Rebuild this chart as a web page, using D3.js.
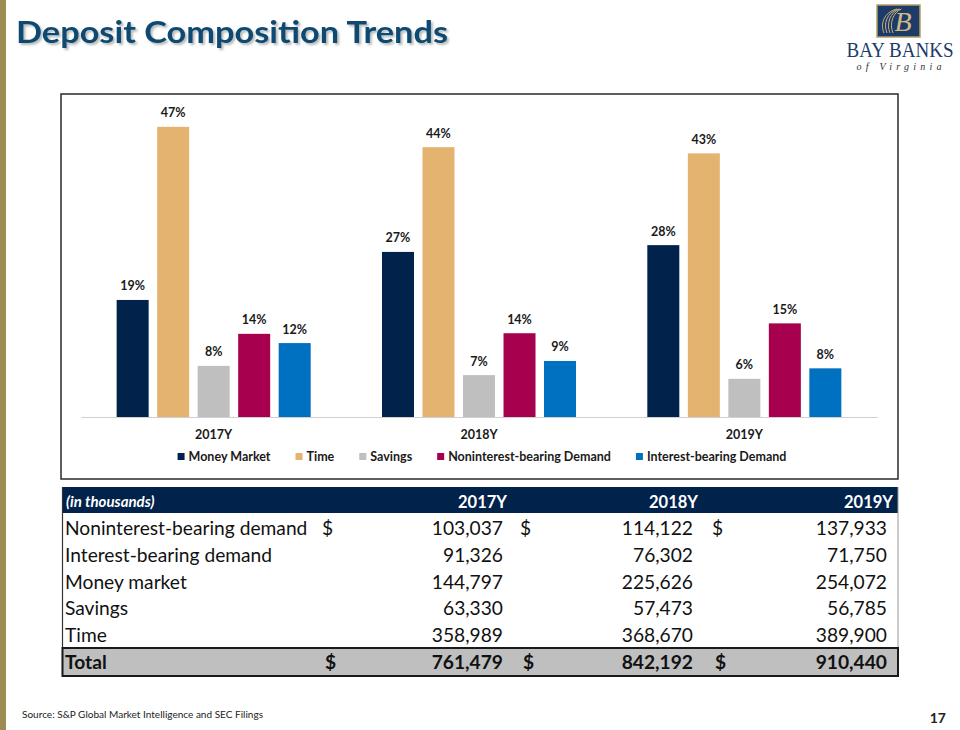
<!DOCTYPE html>
<html>
<head>
<meta charset="utf-8">
<script src="https://cdn.jsdelivr.net/npm/d3@7/dist/d3.min.js"></script>
<style>
  html, body { margin: 0; padding: 0; background: #fff; }
  svg { display: block; }
</style>
</head>
<body>
<svg id="chart" width="960" height="730"></svg>
<script>
// ---------------- DATA ----------------
const years = ["2017Y", "2018Y", "2019Y"];
const seriesNames = ["Money Market", "Time", "Savings", "Noninterest-bearing Demand", "Interest-bearing Demand"];
const moneyMarketPct = [19.0, 26.8, 27.9];
const timePct = [47.1, 43.8, 42.8];
const savingsPct = [8.3, 6.8, 6.2];
const nonInterestPct = [13.5, 13.6, 15.2];
const interestPct = [12.0, 9.1, 7.9];

const tableHeader = "(in thousands)";
const tableRowLabels = ["Noninterest-bearing demand", "Interest-bearing demand", "Money market", "Savings", "Time"];
const values2017 = [103037, 91326, 144797, 63330, 358989];
const values2018 = [114122, 76302, 225626, 57473, 368670];
const values2019 = [137933, 71750, 254072, 56785, 389900];
const totalLabel = "Total";
const totals = [761479, 842192, 910440];

const seriesColors = ["#00224b", "#e3b36f", "#bfbfbf", "#a6004f", "#0070c0"];

// ---------------- SETUP ----------------
const svg = d3.select("#chart");
const FONT = "Lato, 'Open Sans', sans-serif";

// left gold bar
svg.append("rect").attr("x", 0).attr("y", 0).attr("width", 6).attr("height", 730).attr("fill", "#9e8d52");

// title with shadow
const defs = svg.append("defs");
const f = defs.append("filter").attr("id", "tshadow").attr("x", "-5%").attr("y", "-20%").attr("width", "110%").attr("height", "150%");
f.append("feDropShadow").attr("dx", 2).attr("dy", 2).attr("stdDeviation", 1.2).attr("flood-color", "#000").attr("flood-opacity", 0.28);
svg.append("text")
  .attr("x", 16).attr("y", 43)
  .attr("font-family", FONT).attr("font-weight", 700).attr("font-size", 31)
  .attr("fill", "#104a70").attr("filter", "url(#tshadow)")
  .attr("textLength", 432).attr("lengthAdjust", "spacingAndGlyphs")
  .text("Deposit Composition Trends");

// logo
const logo = svg.append("g");
logo.append("rect").attr("x", 877).attr("y", 5).attr("width", 43).attr("height", 32)
  .attr("fill", "#1c3b68").attr("stroke", "#b59f62").attr("stroke-width", 1.5);
[0, 3, 6, 9].forEach(k => {
  logo.append("path")
    .attr("d", `M${884 + k},33 C${880 + k},24 ${884 + k},12 ${897 + k * 0.5},9`)
    .attr("fill", "none").attr("stroke", "#c9b27a").attr("stroke-width", 1);
});
logo.append("text").attr("x", 903).attr("y", 31).attr("text-anchor", "middle")
  .attr("font-family", "'Liberation Serif', serif").attr("font-style", "italic")
  .attr("font-size", 28).attr("fill", "#d2bb82").text("B");
logo.append("text").attr("x", 900).attr("y", 57).attr("text-anchor", "middle")
  .attr("font-family", "'Liberation Serif', 'DejaVu Serif', serif").attr("font-size", 20)
  .attr("fill", "#1c3b68").attr("textLength", 107).attr("lengthAdjust", "spacingAndGlyphs")
  .text("BAY BANKS");
logo.append("text").attr("x", 899).attr("y", 70).attr("text-anchor", "middle")
  .attr("font-family", "'Liberation Serif', serif").attr("font-style", "italic").attr("font-size", 10)
  .attr("fill", "#333").attr("textLength", 85).attr("lengthAdjust", "spacing")
  .text("of Virginia");

// ---------------- CHART ----------------
svg.append("rect").attr("x", 61).attr("y", 94).attr("width", 837).attr("height", 385)
  .attr("fill", "#fff").attr("stroke", "#2a2a2a").attr("stroke-width", 1.5);

const plot = { left: 81, right: 877, base: 417 };
const x0 = d3.scaleBand().domain(years).range([plot.left, plot.right]).paddingInner(0).paddingOuter(0);
const x1 = d3.scaleBand().domain(seriesNames).range([0, x0.bandwidth()]).paddingInner(0.21).paddingOuter(0.88);
const y = d3.scaleLinear().domain([0, 50]).range([plot.base, plot.base - 308]);
const color = d3.scaleOrdinal().domain(seriesNames).range(seriesColors);

const seriesValues = [moneyMarketPct, timePct, savingsPct, nonInterestPct, interestPct];
const barData = [];
years.forEach((yr, i) => {
  seriesNames.forEach((s, j) => barData.push({ year: yr, series: s, value: seriesValues[j][i] }));
});

svg.append("g").selectAll("rect").data(barData).join("rect")
  .attr("x", d => x0(d.year) + x1(d.series))
  .attr("y", d => y(d.value))
  .attr("width", x1.bandwidth())
  .attr("height", d => y(0) - y(d.value))
  .attr("fill", d => color(d.series));

svg.append("g").selectAll("text").data(barData).join("text")
  .attr("x", d => x0(d.year) + x1(d.series) + x1.bandwidth() / 2)
  .attr("y", d => y(d.value) - 9.5)
  .attr("text-anchor", "middle")
  .attr("font-family", FONT).attr("font-weight", 700).attr("font-size", 12.5).attr("fill", "#1a1a1a")
  .text(d => Math.round(d.value) + "%");

// x axis
const xAxis = svg.append("g").attr("transform", `translate(0,${plot.base})`)
  .call(d3.axisBottom(x0).tickSize(0).tickPadding(13));
xAxis.select(".domain").attr("stroke", "#d0d0d0").attr("stroke-width", 1.2);
xAxis.selectAll("text").attr("font-family", FONT).attr("font-weight", 700).attr("font-size", 12.5).attr("fill", "#1a1a1a");

// legend
const legend = svg.append("g");
const items = legend.selectAll("g").data(seriesNames).join("g");
items.append("rect").attr("width", 7).attr("height", 7).attr("y", -8).attr("fill", d => color(d));
items.append("text").attr("x", 11).attr("y", 0)
  .attr("font-family", FONT).attr("font-weight", 700).attr("font-size", 12.5).attr("fill", "#1a1a1a")
  .text(d => d);
let widths = [];
items.each(function () { widths.push(11 + d3.select(this).select("text").node().getComputedTextLength()); });
const gap = 25;
const totalW = d3.sum(widths) + gap * (widths.length - 1);
let cx = 482 - totalW / 2;
items.attr("transform", (d, i) => { const t = `translate(${cx},461)`; cx += widths[i] + gap; return t; });

// ---------------- TABLE ----------------
const tbl = { left: 62.5, right: 898, top: 487, headH: 26, rowH: 26.8 };
const tfont = FONT;
const FS = 19.2;
const dollarX = [322, 520, 712];
const numRight = [503, 693, 887];
const headRight = [507, 698, 893];
const fmt = d3.format(",");

// header
svg.append("rect").attr("x", tbl.left).attr("y", tbl.top).attr("width", tbl.right - tbl.left).attr("height", tbl.headH)
  .attr("fill", "#00224b");
svg.append("text").attr("x", 66).attr("y", tbl.top + 20)
  .attr("font-family", tfont).attr("font-style", "italic").attr("font-weight", 700).attr("font-size", 15)
  .attr("fill", "#fff").text(tableHeader);
svg.append("g").selectAll("text").data(years).join("text")
  .attr("x", (d, i) => headRight[i]).attr("y", tbl.top + 20.5).attr("text-anchor", "end")
  .attr("font-family", tfont).attr("font-weight", 700).attr("font-size", 16.5).attr("fill", "#fff")
  .text(d => d);

// body
const bodyTop = tbl.top + tbl.headH;
const bodyBottom = bodyTop + tbl.rowH * tableRowLabels.length;
svg.append("line").attr("x1", tbl.left).attr("x2", tbl.left).attr("y1", tbl.top).attr("y2", bodyBottom + 28)
  .attr("stroke", "#333").attr("stroke-width", 1.2);
svg.append("line").attr("x1", tbl.right).attr("x2", tbl.right).attr("y1", tbl.top).attr("y2", bodyBottom)
  .attr("stroke", "#999").attr("stroke-width", 1);

const rowData = tableRowLabels.map((lab, i) => ({ label: lab, vals: [values2017[i], values2018[i], values2019[i]], i }));
const rows = svg.append("g").selectAll("g").data(rowData).join("g")
  .attr("transform", d => `translate(0,${bodyTop + tbl.rowH * d.i + 22})`);
rows.append("text").attr("x", 65).attr("font-family", tfont).attr("font-size", FS).attr("fill", "#111")
  .text(d => d.label);
rows.filter(d => d.i === 0).selectAll("text.dollar").data([0, 1, 2]).join("text").attr("class", "dollar")
  .attr("x", k => dollarX[k]).attr("font-family", tfont).attr("font-size", FS).attr("fill", "#111").text("$");
rows.selectAll("text.num").data(d => d.vals).join("text").attr("class", "num")
  .attr("x", (v, k) => numRight[k]).attr("text-anchor", "end")
  .attr("font-family", tfont).attr("font-size", FS).attr("fill", "#111")
  .text(v => fmt(v));

// total row
const totTop = bodyBottom + 1;
svg.append("rect").attr("x", tbl.left).attr("y", totTop).attr("width", tbl.right - tbl.left).attr("height", 28)
  .attr("fill", "#bfbfbf").attr("stroke", "#1a1a1a").attr("stroke-width", 2);
svg.append("text").attr("x", 65).attr("y", totTop + 21).attr("font-family", tfont).attr("font-weight", 700)
  .attr("font-size", FS).attr("fill", "#111").text(totalLabel);
svg.append("g").selectAll("text").data(totals).join("text")
  .attr("x", (d, k) => dollarX[k] + 3).attr("y", totTop + 21).attr("font-family", tfont).attr("font-weight", 700)
  .attr("font-size", FS).attr("fill", "#111").text("$");
svg.append("g").selectAll("text").data(totals).join("text")
  .attr("x", (d, k) => numRight[k]).attr("y", totTop + 21).attr("text-anchor", "end")
  .attr("font-family", tfont).attr("font-weight", 700).attr("font-size", FS).attr("fill", "#111")
  .text(d => fmt(d));

// footer
svg.append("text").attr("x", 22).attr("y", 718).attr("font-family", tfont).attr("font-size", 10).attr("fill", "#222")
  .attr("textLength", 241).attr("lengthAdjust", "spacingAndGlyphs")
  .text("Source: S&P Global Market Intelligence and SEC Filings");
svg.append("text").attr("x", 946).attr("y", 723).attr("text-anchor", "end").attr("font-family", tfont)
  .attr("font-weight", 700).attr("font-size", 14).attr("fill", "#222").text("17");
</script>
</body>
</html>
